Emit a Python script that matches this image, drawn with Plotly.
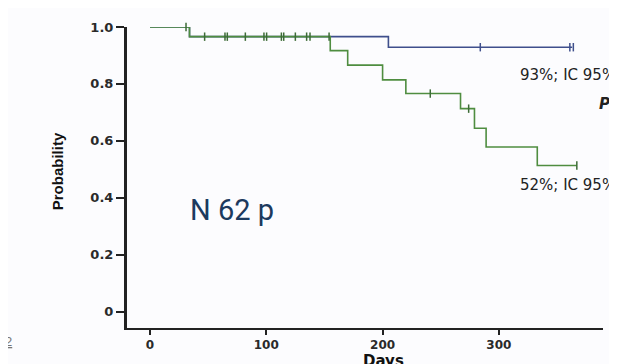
import plotly.graph_objects as go

# ---- data ----
blue_days = [0, 34, 205, 363]
blue_surv = [1.0, 0.966, 0.929, 0.929]

green_days = [0, 34, 155, 170, 200, 220, 267, 279, 289, 333, 367]
green_surv = [1.0, 0.966, 0.917, 0.866, 0.814, 0.766, 0.713, 0.644, 0.578, 0.513, 0.513]

shared_censor_days = [31, 47, 64.5, 66.5, 82, 98, 100.3, 113, 115, 125, 134.7, 137.6, 154]
green_censor_days = [241, 274, 367]
blue_censor_days = [284, 361, 364]

x_ticks = [0, 100, 200, 300]
y_ticks = [0, 0.2, 0.4, 0.6, 0.8, 1.0]
y_ticktext = ["0", "0.2", "0.4", "0.6", "0.8", "1.0"]

label_top = "93%; IC 95%"
label_bottom = "52%; IC 95%"
big_label = "N 62 p"

BLUE = "#3f4f8c"
GREEN = "#4f8d40"


def step_value(days, surv, t):
    v = surv[0]
    for d, s in zip(days, surv):
        if d <= t:
            v = s
    return v


fig = go.Figure()
fig.add_trace(go.Scatter(x=blue_days, y=blue_surv, mode="lines", line_shape="hv",
                         line=dict(color=BLUE, width=1.6), cliponaxis=False, showlegend=False))
fig.add_trace(go.Scatter(x=blue_censor_days,
                         y=[step_value(blue_days, blue_surv, t) for t in blue_censor_days],
                         mode="markers", marker=dict(symbol="line-ns", size=6,
                                                     line=dict(color=BLUE, width=1.5)),
                         cliponaxis=False, showlegend=False))
fig.add_trace(go.Scatter(x=green_days, y=green_surv, mode="lines", line_shape="hv",
                         line=dict(color=GREEN, width=1.6), cliponaxis=False, showlegend=False))
fig.add_trace(go.Scatter(x=shared_censor_days + green_censor_days,
                         y=[step_value(green_days, green_surv, t)
                            for t in shared_censor_days + green_censor_days],
                         mode="markers", marker=dict(symbol="line-ns", size=6,
                                                     line=dict(color="#3c6b36", width=1.5)),
                         cliponaxis=False, showlegend=False))

axis_font = dict(family="DejaVu Sans, Liberation Sans, sans-serif", size=13, color="#2a2a2a",
                 weight="bold")
xaxis_font = dict(family="DejaVu Sans, Liberation Sans, sans-serif", size=12, color="#2a2a2a",
                  weight="bold")

fig.update_layout(
    xaxis=dict(range=[-20.6, 389.5], tickvals=x_ticks, ticks="outside", ticklen=5,
               tickwidth=2, tickcolor="#222", showline=True, linewidth=2, linecolor="#222",
               showgrid=False, zeroline=False, tickfont=xaxis_font),
    yaxis=dict(range=[-0.058, 1.0], tickvals=y_ticks, ticktext=y_ticktext, ticks="outside",
               ticklen=8, tickwidth=1.5, tickcolor="#222", showline=True, linewidth=2,
               linecolor="#222", showgrid=False, zeroline=False, tickfont=axis_font),
)

# y-axis line (drawn explicitly so it is always visible)
fig.add_shape(type="line", xref="paper", yref="paper", x0=0, x1=0, y0=0, y1=1,
              line=dict(color="#222", width=2), layer="above")

ann_font = dict(family="DejaVu Sans, Liberation Sans, sans-serif", size=15, color="#222")
fig.add_annotation(x=316.4, y=0.831, text=label_top, showarrow=False, xanchor="left",
                   yanchor="middle", font=ann_font)
fig.add_annotation(x=316.4, y=0.446, text=label_bottom, showarrow=False, xanchor="left",
                   yanchor="middle", font=ann_font)
fig.add_annotation(x=384, y=0.729, text="<b><i>P</i></b> = 0.0", showarrow=False,
                   xanchor="left", yanchor="middle", font=ann_font)
fig.add_annotation(x=32.7, y=0.357, text=big_label, showarrow=False, xanchor="left",
                   yanchor="middle",
                   font=dict(family="Roboto, sans-serif", size=29, color="#1c3a5e"))
fig.add_annotation(x=201, y=0, xref="x", yref="paper", yshift=-33, text="<b>Days</b>",
                   showarrow=False, xanchor="center", yanchor="middle",
                   font=dict(family="DejaVu Sans, Liberation Sans, sans-serif", size=15,
                             color="#111"))
fig.add_annotation(x=-0.143, y=0.52, xref="paper", yref="paper", text="<b>Probability</b>",
                   textangle=-90, showarrow=False, xanchor="center", yanchor="middle",
                   font=dict(family="Liberation Sans, Arial, sans-serif", size=15, color="#111"))
fig.add_annotation(x=-0.258, y=-0.045, xref="paper", yref="paper", text="<u>2</u>",
                   showarrow=False, xanchor="left", yanchor="middle",
                   font=dict(family="Liberation Sans, Arial, sans-serif", size=13, color="#777"))

# the page body has an 8px default margin, so the figure is sized and offset to compensate
fig.update_layout(width=609, height=356, margin=dict(l=118, r=14, t=15, b=33),
                  paper_bgcolor="#fcfcfe", plot_bgcolor="#fcfcfe")

fig.write_html("out.html")
